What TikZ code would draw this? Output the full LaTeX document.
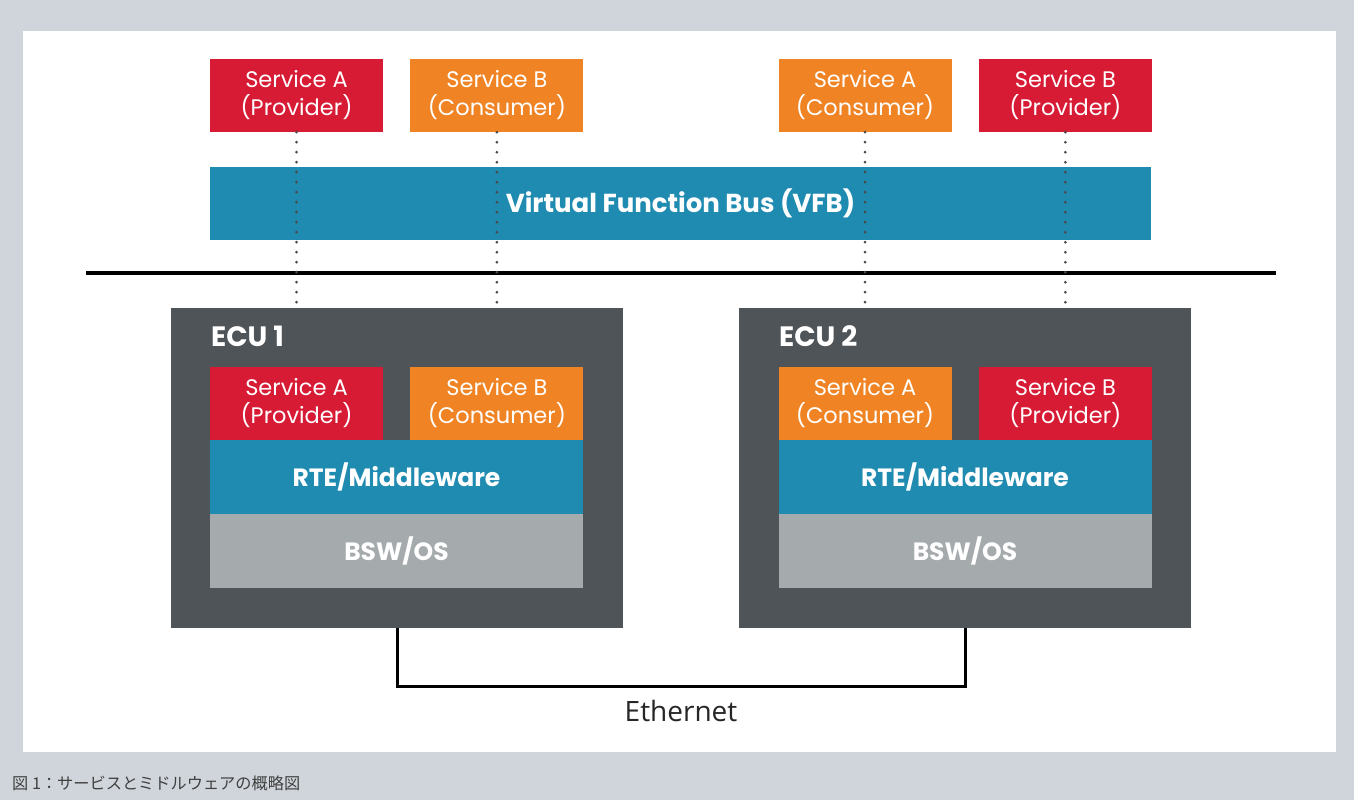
\documentclass[tikz,border=0pt]{standalone}
\usepackage{fontspec}
\setmainfont{Poppins}
\newfontfamily\ethfont{Open Sans}
\newfontfamily\jpfont{Noto Sans CJK JP}
\usetikzlibrary{positioning}
\definecolor{svcred}{HTML}{D81B35}
\definecolor{svcorange}{HTML}{F08424}
\definecolor{busblue}{HTML}{208BB0}
\definecolor{ecugray}{HTML}{4F5458}
\definecolor{bswgray}{HTML}{A5AAAD}
\definecolor{panelgray}{HTML}{D0D5DC}
\definecolor{dotgray}{HTML}{4A4A4A}
\tikzset{svc node/.style={minimum width=173pt, minimum height=73pt, inner sep=0pt, align=center, text=white, font=\fontsize{22.5}{28}\selectfont},
  provider/.style={svc node, fill=svcred},
  consumer/.style={svc node, fill=svcorange},
  layer/.style={minimum width=373pt, minimum height=74pt, inner sep=0pt, text=white, font=\bfseries\fontsize{25}{28}\selectfont},
  ecu box/.style={fill=ecugray, minimum width=452pt, minimum height=320pt, inner sep=0pt},
  ecu label/.style={anchor=west, inner sep=0pt, text=white, font=\bfseries\fontsize{28}{30}\selectfont},
  dots/.style={dotgray, line width=3pt, line cap=round, dash pattern=on 0pt off 10pt},}

\begin{document}
\begin{tikzpicture}[x=1pt,y=-1pt]
    \fill[panelgray] (0,0) rectangle (1354,800);
    \fill[white] (23,31) rectangle (1336,752);
    \useasboundingbox (0,0) rectangle (1354,800);

    % services on the bus
    \node[provider] (topA) at (296.5,95.5) {Service A\\(Provider)};
    \node[consumer] (topB) [right = 27pt of topA] {Service B\\(Consumer)};
    \node[consumer] (topC) at (865,95.5) {Service A\\(Consumer)};
    \node[provider] (topD) [right = 27pt of topC] {Service B\\(Provider)};
    \node[fill=busblue, minimum width=941pt, minimum height=73pt, inner sep=0pt, text=white, font=\bfseries\fontsize{26}{28}\selectfont] (vfb) at (680.5,203.5) {Virtual Function Bus (VFB)};

    % ECUs
    \node[ecu box] (ecu1) at (397,468) {};
    \node[ecu box] (ecu2) at (965,468) {};
    \node[ecu label] (ecu1 label) at (211,336) {ECU 1};
    \node[ecu label] (ecu2 label) at (779,336) {ECU 2};

    \node[provider] (inA1) at (296.5,403.5) {Service A\\(Provider)};
    \node[consumer] (inB1) [right = 27pt of inA1] {Service B\\(Consumer)};
    \node[layer, fill=busblue] (rte1) at (396.5,477) {RTE/Middleware};
    \node[layer, fill=bswgray] (bsw1) [below = 0pt of rte1] {BSW/OS};

    \node[consumer] (inA2) at (865,403.5) {Service A\\(Consumer)};
    \node[provider] (inB2) [right = 27pt of inA2] {Service B\\(Provider)};
    \node[layer, fill=busblue] (rte2) at (965,477) {RTE/Middleware};
    \node[layer, fill=bswgray] (bsw2) [below = 0pt of rte2] {BSW/OS};

    \draw[line width=4pt] (86,273) -- (1276,273);
    \foreach \s/\e in {topA/ecu1, topB/ecu1, topC/ecu2, topD/ecu2}
      \draw[dots] (\s.south) -- (\s.south |- \e.north);

    % network
    \draw[line width=3pt] (ecu1.south) -- ++(0,58) -| (ecu2.south);
    \node[text=black!85, font=\ethfont\fontsize{28}{30}\selectfont] (eth) at (681,711) {Ethernet};

    \node[anchor=west, inner sep=0pt, text=black!75, font=\jpfont\fontsize{16.2}{18}\selectfont] (caption) at (12,783) {図 1：サービスとミドルウェアの概略図};
\end{tikzpicture}
\end{document}
